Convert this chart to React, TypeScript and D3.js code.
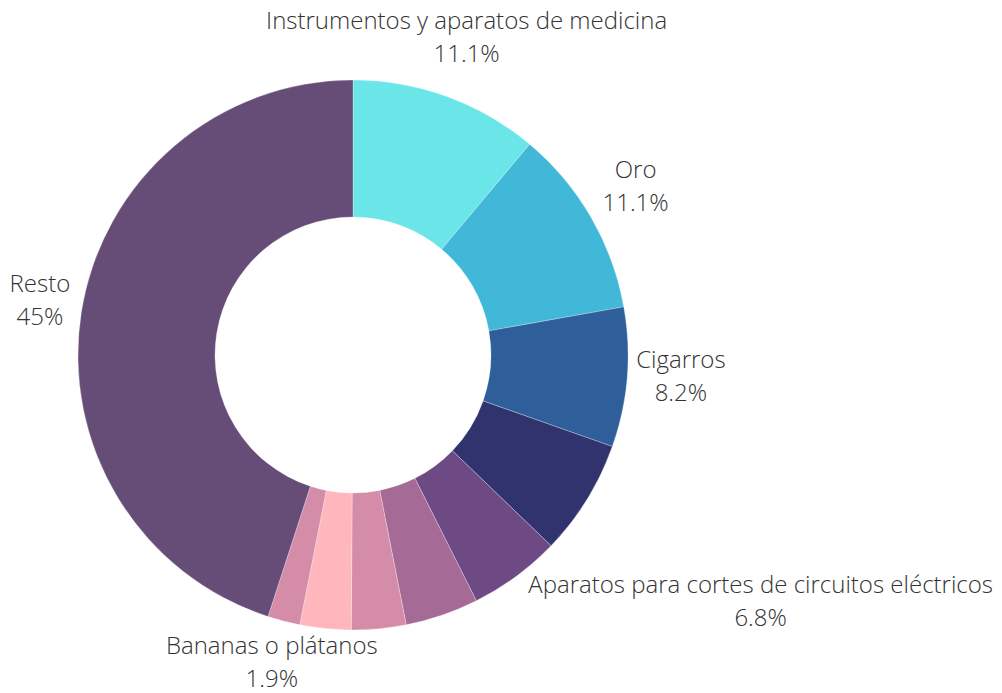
import { useEffect, useRef } from 'react';
import * as d3 from 'd3';

// slices clockwise from 12 o'clock
const categories = [
  'Instrumentos y aparatos de medicina',
  'Oro',
  'Cigarros',
  'Aparatos para cortes de circuitos eléctricos',
  'Producto 5',
  'Producto 6',
  'Producto 7',
  'Producto 8',
  'Bananas o plátanos',
  'Resto',
];
const shares = [11.1, 11.1, 8.2, 6.8, 5.4, 4.3, 3.2, 3.0, 1.9, 45];
const colors = [
  '#6ae5e8', '#42b8d8', '#2e5f9a', '#30336e', '#6e4a85',
  '#a56a95', '#d58ca8', '#ffb6bd', '#d48ca8', '#664d77',
];
// only these get a label in the original
const labeled = [
  'Instrumentos y aparatos de medicina',
  'Oro',
  'Cigarros',
  'Aparatos para cortes de circuitos eléctricos',
  'Bananas o plátanos',
  'Resto',
];

interface Slice {
  category: string;
  value: number;
  color: string;
}

const data: Slice[] = categories.map((c, i) => ({ category: c, value: shares[i], color: colors[i] }));

export default function App() {
  const svgRef = useRef<SVGSVGElement>(null);

  useEffect(() => {
    if (!svgRef.current) return;
    const width = 1002;
    const height = 693;
    const cx = 353;
    const cy = 355;
    const outerR = 275;
    const innerR = 138;
    const gap = 8;

    d3.select(svgRef.current).selectAll('*').remove();
    const svg = d3.select(svgRef.current)
      .attr('width', width)
      .attr('height', height);

    const g = svg.append('g').attr('transform', `translate(${cx},${cy})`);

    const pie = d3.pie<Slice>().sort(null).value(d => d.value);
    const arc = d3.arc<d3.PieArcDatum<Slice>>().innerRadius(innerR).outerRadius(outerR);
    const arcs = pie(data);

    g.selectAll('path')
      .data(arcs)
      .enter()
      .append('path')
      .attr('d', arc)
      .attr('fill', d => d.data.color)
      .attr('stroke', 'rgba(255,255,255,0.35)')
      .attr('stroke-width', 0.8);

    const fmt = (v: number) => `${v}%`;

    arcs.filter(d => labeled.includes(d.data.category)).forEach(d => {
      const lbl = g.append('text')
        .attr('text-anchor', 'middle')
        .style('font-family', '"Open Sans", sans-serif')
        .style('font-weight', 300)
        .style('font-size', '24px')
        .style('fill', '#333');
      lbl.append('tspan').attr('x', 0).attr('dy', 0).text(d.data.category);
      lbl.append('tspan').attr('x', 0).attr('dy', '1.38em').text(fmt(d.data.value));

      const bb = (lbl.node() as SVGTextElement).getBBox();
      const trimTop = 8;
      const h = bb.height - trimTop;
      const mid = (d.startAngle + d.endAngle) / 2;
      const dx = Math.sin(mid);
      const dy = -Math.cos(mid);
      // push the label box out along the mid angle until it clears the ring
      let t = outerR;
      for (; t < 800; t += 0.5) {
        const left = t * dx - bb.width / 2;
        const right = t * dx + bb.width / 2;
        const top = t * dy - h / 2;
        const bottom = t * dy + h / 2;
        const nx = Math.max(left, Math.min(0, right));
        const ny = Math.max(top, Math.min(0, bottom));
        if (Math.hypot(nx, ny) >= outerR + gap) break;
      }
      const shiftY = t * dy - h / 2 - (bb.y + trimTop) - 2.5;
      lbl.attr('transform', `translate(${t * dx},${shiftY})`);
    });
  }, []);

  return (
    <div style={{ width: 1002, height: 693 }}>
      <svg ref={svgRef} style={{ position: 'absolute', left: 0, top: 0 }} />
    </div>
  );
}
